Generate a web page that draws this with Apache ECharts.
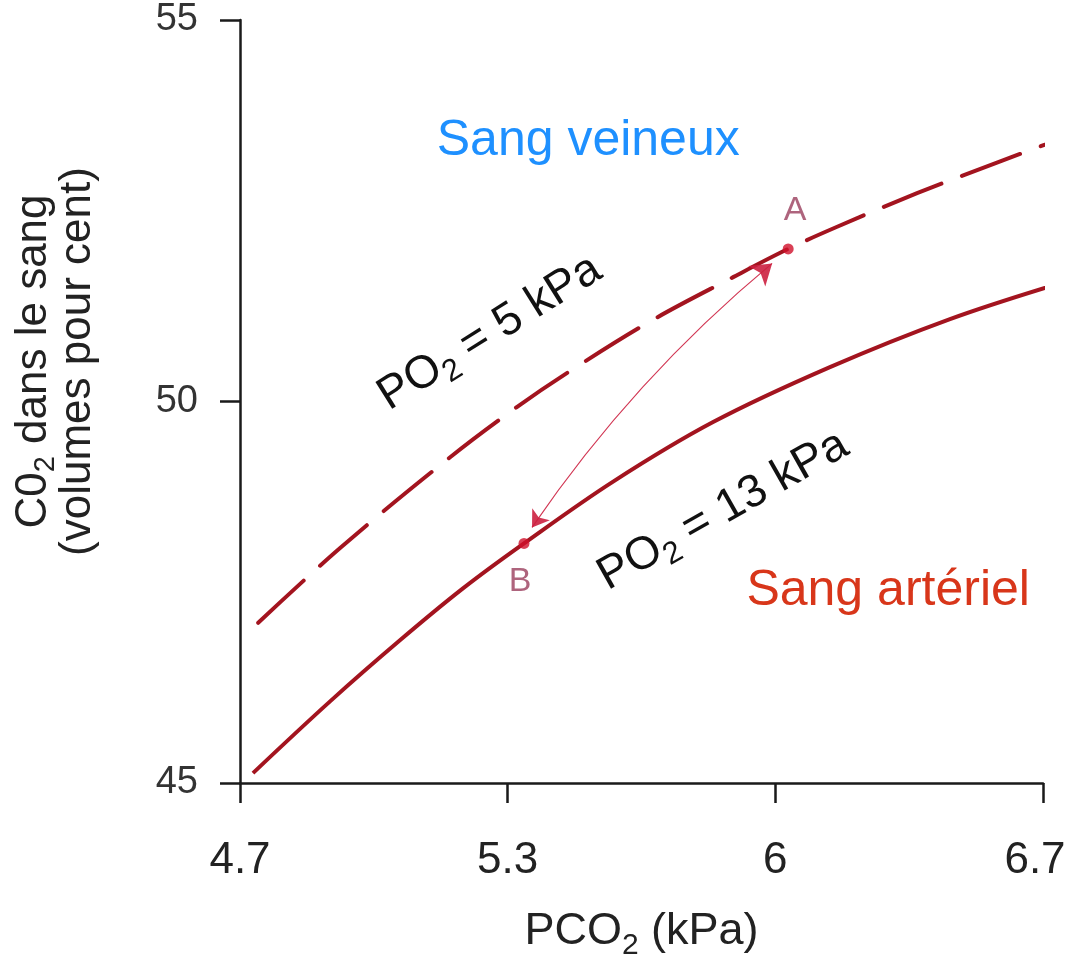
<!DOCTYPE html>
<html>
<head>
<meta charset="utf-8">
<script src="https://cdn.jsdelivr.net/npm/echarts@6/dist/echarts.min.js"></script>
<style>
  html, body { margin: 0; padding: 0; background: #ffffff; overflow: hidden; }
  #chart { width: 1068px; height: 958px; }
</style>
</head>
<body>
<div id="chart"></div>
<script>
// ---- Data ----
// PCO2 (kPa) ticks (linear in mmHg: 35, 40, 45, 50)
const xTickLabels = ['4.7', '5.3', '6', '6.7'];
const yTickLabels = ['45', '50', '55'];

// Venous blood, PO2 = 5 kPa (dashed curve)
const venousX = [4.712, 4.916, 5.190, 5.357, 5.489, 5.695, 5.895, 6.032, 6.154, 6.353, 6.552, 6.709];
const venousY = [47.10, 48.08, 49.27, 49.93, 50.40, 51.07, 51.63, 52.00, 52.29, 52.73, 53.13, 53.44];

// Arterial blood, PO2 = 13 kPa (solid curve)
const arterialX = [4.699, 4.891, 5.065, 5.222, 5.374, 5.596, 5.845, 6.136, 6.435, 6.709];
const arterialY = [45.13, 46.07, 46.87, 47.55, 48.14, 48.95, 49.73, 50.45, 51.08, 51.55];

// Points A (venous) and B (arterial)
const pointNames = ['A', 'B'];
const pointX = [6.032, 5.374];
const pointY = [52.00, 48.14];

// Double arrow between A and B (ends just off the points)
const arrowFrom = [5.992, 51.81];
const arrowTo = [5.394, 48.35];

const chart = echarts.init(document.getElementById('chart'), null, { renderer: 'canvas' });

const X_MIN = 14 / 3, X_MAX = 20 / 3, X_INT = 2 / 3;
const curveColor = '#a3141f';
const axisColor = '#1a1a1a';
const fontFam = '"Liberation Sans", Arial, Helvetica, sans-serif';

function zip(xs, ys) { return xs.map((x, i) => [x, ys[i]]); }

const option = {
  backgroundColor: '#ffffff',
  animation: false,
  grid: { left: 240, right: 25, top: 20, bottom: 175, containLabel: false, outerBoundsMode: 'none' },
  xAxis: {
    type: 'value',
    min: X_MIN, max: X_MAX, interval: X_INT,
    name: 'PCO{sub|2} (kPa)',
    nameLocation: 'middle',
    nameGap: 120,
    nameTextStyle: {
      fontFamily: fontFam, fontSize: 45, color: '#222',
      rich: { sub: { fontSize: 30, verticalAlign: 'bottom', padding: [28, 0, 0, 0], fontFamily: fontFam, color: '#222' } }
    },
    axisLine: { show: true, lineStyle: { color: axisColor, width: 2.5 } },
    axisTick: { show: true, length: 20, inside: false, lineStyle: { color: axisColor, width: 2.5 } },
    axisLabel: {
      margin: 56, fontSize: 44, color: '#222', fontFamily: fontFam,
      formatter: function (v) {
        const i = Math.round((v - X_MIN) / X_INT);
        const t = xTickLabels[i] || '';
        return i === xTickLabels.length - 1 ? '{last|' + t + '}' : t;
      },
      rich: { last: { fontSize: 44, color: '#222', fontFamily: fontFam, padding: [0, 16, 0, 0] } }
    },
    splitLine: { show: false }
  },
  yAxis: {
    type: 'value',
    min: 45, max: 55, interval: 5,
    name: 'C0{sub|2} dans le sang\n(volumes pour cent)',
    nameLocation: 'middle',
    nameGap: 140,
    nameRotate: 90,
    nameTextStyle: {
      fontFamily: fontFam, fontSize: 44, lineHeight: 44, color: '#222', align: 'center',
      padding: [0, 0, 0, 80],
      rich: { sub: { fontSize: 29, fontFamily: fontFam, color: '#222', padding: [24, 0, 0, 0] } }
    },
    axisLine: { show: true, lineStyle: { color: axisColor, width: 2.5 } },
    axisTick: { show: true, length: 20, inside: false, lineStyle: { color: axisColor, width: 2.5 } },
    axisLabel: {
      margin: 42, fontSize: 38, color: '#333', fontFamily: fontFam,
      formatter: function (v) { const i = Math.round((v - 45) / 5); return yTickLabels[i] || ''; }
    },
    splitLine: { show: false }
  },
  series: [
    {
      name: 'PO2 = 5 kPa',
      type: 'line',
      data: zip(venousX, venousY),
      smooth: 0.35,
      showSymbol: false,
      clip: false,
      lineStyle: { color: curveColor, width: 4, type: [62, 22], cap: 'round' },
      z: 3
    },
    {
      name: 'PO2 = 13 kPa',
      type: 'line',
      data: zip(arterialX, arterialY),
      smooth: 0.35,
      showSymbol: false,
      clip: false,
      lineStyle: { color: curveColor, width: 4 },
      z: 3
    },
    {
      name: 'A-B',
      type: 'lines',
      coordinateSystem: 'cartesian2d',
      symbol: ['arrow', 'arrow'],
      symbolSize: [20, 16],
      lineStyle: { color: '#cc2040', width: 1.2, curveness: -0.07, opacity: 0.9 },
      data: [{ coords: [arrowFrom, arrowTo] }],
      z: 4
    },
    {
      name: 'points',
      type: 'scatter',
      data: pointNames.map((n, i) => ({ name: n, value: [pointX[i], pointY[i]] })),
      symbolSize: 11,
      itemStyle: { color: '#d0102a' },
      label: {
        show: true,
        formatter: '{b}',
        fontFamily: fontFam,
        fontSize: 34,
        color: '#9a3d5c'
      },
      z: 5
    }
  ]
};

// label placement for A (above) and B (below)
option.series[3].data[0].label = { position: 'top', distance: 16, offset: [7, 0] };
option.series[3].data[1].label = { position: 'bottom', distance: 16, offset: [-4, 0] };

chart.setOption(option);

// ---- Text annotations placed in data coordinates ----
const annotations = [
  { text: 'Sang veineux', at: [5.534, 53.405], rot: 0, size: 50, color: '#1e90ff' },
  { text: 'Sang artériel', at: [6.281, 47.52], rot: 0, size: 50, color: '#d8361a' },
  { text: 'PO{s|2} = 5 kPa', at: [5.289, 50.90], rot: 32, size: 46, color: '#111' },
  { text: 'PO{s|2} = 13 kPa', at: [5.870, 48.57], rot: 29.5, size: 46, color: '#111' }
];

const graphics = annotations.map(a => {
  const p = chart.convertToPixel({ gridIndex: 0 }, a.at);
  return {
    type: 'text',
    x: p[0], y: p[1],
    rotation: a.rot * Math.PI / 180,
    z: 10,
    style: {
      text: a.text,
      fill: a.color,
      fontFamily: fontFam,
      fontSize: a.size,
      align: 'center',
      verticalAlign: 'middle',
      rich: {
        s: { fontSize: 31, fill: a.color, fontFamily: fontFam, padding: [26, 0, 0, 0] }
      }
    }
  };
});
chart.setOption({ graphic: graphics });
</script>
</body>
</html>
